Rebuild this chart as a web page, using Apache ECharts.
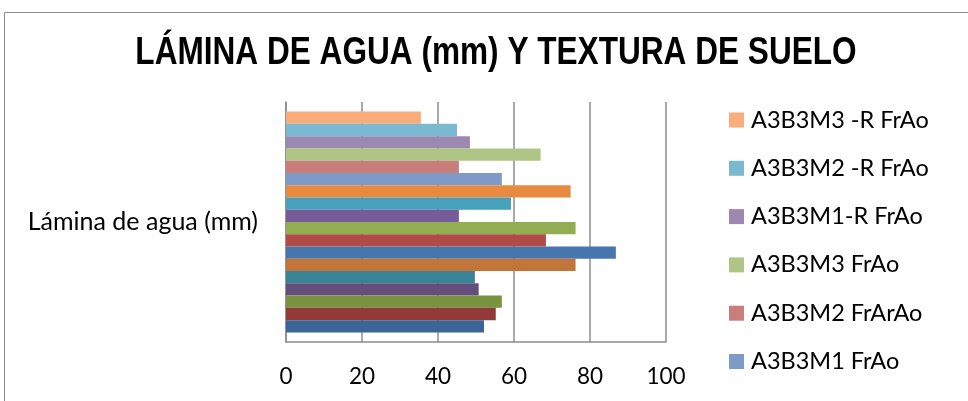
<!DOCTYPE html>
<html>
<head>
<meta charset="utf-8">
<script src="https://cdn.jsdelivr.net/npm/echarts@6/dist/echarts.min.js"></script>
<style>
  html, body { margin: 0; padding: 0; background: #ffffff; }
  #chart { width: 968px; height: 401px; }
</style>
</head>
<body>
<div id="chart"></div>
<script>
// Single category, eighteen bars (first value drawn at the bottom)
const categories = ['Lámina de agua (mm)'];
const values = [
  52.1, 55.2, 56.8, 50.7, 49.7, 76.2,
  86.8, 68.4, 76.2, 45.5, 59.2, 74.9,
  56.8, 45.5, 67.0, 48.4, 45.0, 35.5
];
// Names of the last six series, the ones listed in the legend
const namedSeries = [
  'A3B3M1 FrAo', 'A3B3M2 FrArAo', 'A3B3M3 FrAo',
  'A3B3M1-R FrAo', 'A3B3M2 -R FrAo', 'A3B3M3 -R FrAo'
];
const colors = [
  '#3b6597', '#913a39', '#7a9341', '#634e7c', '#388496', '#c17538',
  '#4776af', '#b24b48', '#92ae53', '#775c9a', '#48a1ba', '#e88b40',
  '#7e9bc8', '#c97e7c', '#aec585', '#9c89b2', '#7ab9cf', '#f9ad7b'
];
const xTicks = { min: 0, max: 100, step: 20 };

const FONT = 'Lato';
const TITLE = 'LÁMINA DE AGUA (mm) Y TEXTURA DE SUELO';

// ECharts places the first series of a horizontal group at the top,
// so the list is reversed to keep series 1 at the bottom.
const series = values.map((v, i) => ({
  type: 'bar',
  name: i >= 12 ? namedSeries[i - 12] : 'Serie' + (i + 1),
  data: [v],
  barGap: '0%',
  barCategoryGap: '8%',
  itemStyle: { color: colors[i] },
  animation: false
})).reverse();

const chart = echarts.init(document.getElementById('chart'));
chart.setOption({
  animation: false,
  legend: {
    orient: 'vertical',
    left: 729,
    top: 108,
    padding: 0,
    height: 290,
    itemWidth: 15,
    itemHeight: 15,
    itemGap: 24.3,
    icon: 'rect',
    data: namedSeries.slice().reverse(),
    textStyle: { fontFamily: FONT, fontSize: 23.5, color: '#000000', padding: [0, 0, 0, 2] }
  },
  grid: { left: 286, right: 302, top: 102, bottom: 59, containLabel: false },
  xAxis: {
    type: 'value',
    min: xTicks.min,
    max: xTicks.max,
    interval: xTicks.step,
    axisLine: { show: true, lineStyle: { color: '#8c8c8c', width: 1.5 } },
    axisTick: { show: false },
    splitLine: { show: true, lineStyle: { color: '#8c8c8c', width: 1.5 } },
    axisLabel: { fontFamily: FONT, fontSize: 22.5, color: '#000000', margin: 23 }
  },
  yAxis: {
    type: 'category',
    data: categories,
    axisLine: { show: true, lineStyle: { color: '#8c8c8c', width: 1.5 } },
    axisTick: { show: false },
    axisLabel: { fontFamily: FONT, fontSize: 25, color: '#000000', margin: 28 }
  },
  graphic: [{
    type: 'rect',
    shape: { x: 4.5, y: 12.5, width: 980, height: 420 },
    style: { fill: 'none', stroke: '#8c8c8c', lineWidth: 1 },
    silent: true
  }, {
    type: 'text',
    x: 496,
    y: 53,
    scaleX: 0.81,
    silent: true,
    style: {
      text: TITLE,
      x: 0,
      y: 0,
      textAlign: 'center',
      textVerticalAlign: 'middle',
      fontFamily: 'Liberation Sans, Arial',
      fontWeight: 'bold',
      fontSize: 39,
      fill: '#000000'
    }
  }],
  series: series
});
</script>
</body>
</html>
